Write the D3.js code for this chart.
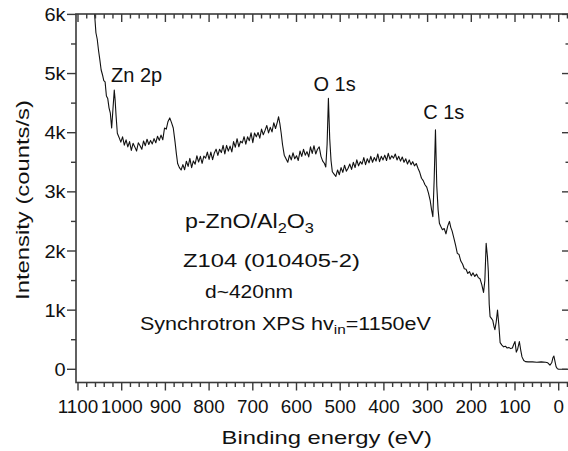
<!DOCTYPE html>
<html>
<head>
<meta charset="utf-8">
<script src="https://cdn.jsdelivr.net/npm/d3@7/dist/d3.min.js"></script>
<style>
  body { margin: 0; background: #fff; }
  svg { display: block; font-family: "Liberation Sans", Arial, Helvetica, sans-serif; }
</style>
</head>
<body>
<div id="wrapper"></div>
<script>
// Spectrum: binding energy (eV) and intensity (counts/s)
const energy = [
  1068, 1062, 1059, 1056, 1053, 1050, 1047, 1044, 1041, 1038, 1035, 1032, 1029, 1026, 1023, 1020, 1017, 1015, 1013, 1010,
  1006, 1002, 998, 994, 990, 986, 982, 978, 974, 970, 966, 962, 958, 954, 950, 946, 942, 938, 934, 930,
  926, 922, 918, 914, 910, 906, 902, 898, 894, 890, 886, 882, 878, 875, 872, 868, 864,
  860, 856, 852, 848, 844, 840, 836, 832, 828, 824, 820, 816, 812, 808, 804, 800, 796, 792, 788, 784,
  780, 776, 772, 768, 764, 760, 756, 752, 748, 744, 740, 736, 732, 728, 724, 720, 716, 712, 708, 704,
  700, 696, 692, 688, 684, 680, 676, 672, 668, 664, 660, 656, 652, 648, 644,
  641, 638, 635, 632, 628,
  624, 620, 616, 612, 608, 604, 600, 596, 592, 588, 584, 580, 576, 572, 568, 564, 560, 556, 552, 548, 544, 540, 536,
  533, 530, 527, 524, 521, 518, 514,
  510, 506, 502, 498, 494, 490, 486, 482, 478, 474, 470, 466, 462, 458, 454, 450, 446, 442, 438, 434,
  430, 426, 422, 418, 414, 410, 406, 402, 398, 394, 390, 386, 382, 378, 374, 370, 366, 362, 358, 354,
  350, 346, 342, 338, 334, 330, 326, 322, 318, 314, 310, 306, 302,
  298, 294, 291, 288, 285, 282, 279, 276, 273, 270, 266, 262, 258, 254, 250, 247, 244, 240, 236, 232,
  228, 224, 220, 216, 212, 208, 204, 200, 196, 192, 188, 184, 180, 176, 172, 169, 166, 163, 161, 159,
  157, 154, 151, 148, 146, 143, 140, 137, 134, 130, 126, 122, 118, 114, 110, 106, 103, 100, 97, 94,
  90, 87, 84, 80, 76, 70, 60, 50, 40, 30, 25, 20, 16, 13, 11, 9, 6, 3, 0, -5,
  -12, -20
];
const counts = [
  6300, 6000, 5690, 5580, 5390, 5230, 5060, 4980, 4880, 4860, 4620, 4580, 4420, 4330, 4080, 4400, 4720, 4550, 4300, 3990,
  3920, 3840, 3930, 3790, 3880, 3760, 3850, 3700, 3820, 3760, 3690, 3830, 3780, 3720, 3860, 3780, 3890, 3800, 3870, 3810,
  3900, 3830, 3940, 3870, 3960, 3880, 4080, 4060, 4190, 4250, 4170, 4080, 3850, 3650, 3480, 3410, 3370,
  3460, 3374, 3518, 3431, 3565, 3409, 3523, 3467, 3610, 3504, 3600, 3482, 3606, 3569, 3673, 3547, 3671, 3545, 3658, 3722,
  3616, 3720, 3664, 3787, 3641, 3785, 3689, 3773, 3676, 3850, 3754, 3898, 3762, 3855, 3829, 3933, 3807, 3931, 3864, 3998,
  3832, 3996, 3930, 4003, 3907, 4061, 3965, 4039, 4122, 3996, 4090, 4014, 4168, 4071, 4175,
  4270, 4150, 3990, 3800, 3620,
  3560, 3500, 3620, 3540, 3660, 3560, 3610, 3530, 3690, 3600, 3720, 3620, 3680, 3590, 3760, 3650, 3780, 3640, 3720, 3760, 3600, 3520, 3480,
  3420, 3800, 4580, 3900, 3530, 3340, 3300,
  3260, 3370, 3290, 3410, 3330, 3450, 3350, 3400, 3470, 3380, 3500, 3410, 3540, 3440, 3510, 3470, 3580, 3460, 3560, 3490,
  3600, 3500, 3580, 3520, 3640, 3510, 3600, 3540, 3620, 3530, 3650, 3550, 3610, 3570, 3640, 3540, 3600, 3520, 3590, 3500,
  3560, 3470, 3540, 3460, 3510, 3440, 3480, 3400, 3330, 3230, 3190, 3120, 3080,
  2980, 2850, 2700, 2580, 3200, 4050, 3100, 2700, 2470, 2420, 2360, 2380, 2290, 2420, 2500, 2400, 2340, 2220, 2100, 1960,
  1940, 1830, 1780, 1700, 1690, 1620, 1650, 1580, 1630, 1570, 1610, 1550, 1530, 1430, 1300, 1500, 2130, 1900, 1650, 1100,
  890, 860, 830, 720, 670, 800, 1000, 750, 450, 410, 380, 390, 360, 370, 350, 360, 420, 470, 290, 340,
  470, 330, 210, 150, 130, 125, 125, 120, 125, 120, 110, 70, 110, 200, 225, 150, 45, 10, 0, 0,
  0, 0
];

// Axis ticks
const xMajorTicks = [1100, 1000, 900, 800, 700, 600, 500, 400, 300, 200, 100, 0];
const xMinorTicks = d3.range(1100, -21, -20);
const yMajorTicks = [0, 1000, 2000, 3000, 4000, 5000, 6000];
const yTickLabels = ["0", "1k", "2k", "3k", "4k", "5k", "6k"];
const yMinorTicks = d3.range(0, 6001, 500);

// Peak annotations (energy, counts of the label baseline centre)
const peakNames = ["Zn 2p", "O 1s", "C 1s"];
const peakLabelAt = [[966, 4860], [513, 4710], [263, 4225]];

const WIDTH = 568;
const HEIGHT = 451;
const frame = { left: 76, top: 14, right: 569, bottom: 382.5 };

const svg = d3.select("#wrapper")
  .append("svg")
  .attr("width", WIDTH)
  .attr("height", HEIGHT);

svg.append("rect").attr("width", WIDTH).attr("height", HEIGHT).attr("fill", "#fff");

// Scales
const xScale = d3.scaleLinear().domain([1100, 0]).range([78, 558.7]);
const yScale = d3.scaleLinear().domain([0, 6000]).range([369.3, 14.4]);

// Clip spectrum to the frame
svg.append("clipPath").attr("id", "plot-clip")
  .append("rect")
  .attr("x", frame.left).attr("y", frame.top)
  .attr("width", frame.right - frame.left).attr("height", frame.bottom - frame.top);

const line = d3.line()
  .x(i => xScale(energy[i]))
  .y(i => yScale(counts[i]));

svg.append("path")
  .attr("clip-path", "url(#plot-clip)")
  .attr("d", line(d3.range(energy.length)))
  .attr("fill", "none")
  .attr("stroke", "#111")
  .attr("stroke-width", 1.1)
  .attr("stroke-linejoin", "round");

// Frame
const frameColor = "#3a3a3a";
svg.append("rect")
  .attr("x", frame.left).attr("y", frame.top)
  .attr("width", frame.right - frame.left).attr("height", frame.bottom - frame.top)
  .attr("fill", "none").attr("stroke", frameColor).attr("stroke-width", 1.6);

// Ticks
const ticks = svg.append("g").attr("stroke", frameColor).attr("stroke-width", 1.4);
const isMajorX = v => v % 100 === 0;
const isMajorY = v => v % 1000 === 0;

xMinorTicks.forEach(v => {
  const px = xScale(v);
  const len = isMajorX(v) ? 8 : 4.5;
  ticks.append("line").attr("x1", px).attr("x2", px)
    .attr("y1", frame.bottom).attr("y2", frame.bottom + len);
  ticks.append("line").attr("x1", px).attr("x2", px)
    .attr("y1", frame.top).attr("y2", frame.top + len);
});
yMinorTicks.forEach(v => {
  const py = yScale(v);
  const len = isMajorY(v) ? 9 : 5;
  ticks.append("line").attr("x1", frame.left - len).attr("x2", frame.left)
    .attr("y1", py).attr("y2", py);
  ticks.append("line").attr("x1", frame.right - (isMajorY(v) ? 7 : 3.5)).attr("x2", frame.right)
    .attr("y1", py).attr("y2", py);
});

// Stretched text helper
function label(x, y, txt, size, sx, anchor, rotate) {
  const t = svg.append("text")
    .attr("transform", `translate(${x},${y})${rotate ? " rotate(-90)" : ""} scale(${sx},1)`)
    .attr("font-size", size)
    .attr("text-anchor", anchor || "start")
    .attr("fill", "#111");
  if (txt !== null) t.text(txt);
  return t;
}

// Tick labels
xMajorTicks.forEach(v => label(xScale(v), 413, String(v), 18.5, 1.02, "middle"));
yMajorTicks.forEach((v, i) => label(65.5, yScale(v) + 6.6, yTickLabels[i], 18.5, 1.08, "end"));

// Axis titles
label(326.7, 443.5, "Binding energy (eV)", 18.6, 1.28, "middle");
label(29, 200, "Intensity (counts/s)", 18.6, 1.28, "middle", true);

// Peak labels
peakNames.forEach((name, i) => {
  label(xScale(peakLabelAt[i][0]), yScale(peakLabelAt[i][1]), name, 20, 1.0, "middle");
});

// Sample annotation
const t1 = label(185, 228, null, 20.5, 1.13);
t1.append("tspan").text("p-ZnO/Al");
t1.append("tspan").attr("font-size", 14.5).attr("dy", 5).text("2");
t1.append("tspan").attr("dy", -5).text("O");
t1.append("tspan").attr("font-size", 14.5).attr("dy", 5).text("3");

label(183, 266.7, "Z104 (010405-2)", 19, 1.25);
label(205, 298.3, "d~420nm", 17.5, 1.2);

const t4 = label(140, 329.5, null, 17.5, 1.23);
t4.append("tspan").text("Synchrotron XPS hv");
t4.append("tspan").attr("font-size", 12.5).attr("dy", 4.5).text("in");
t4.append("tspan").attr("dy", -4.5).text("=1150eV");
</script>
</body>
</html>
